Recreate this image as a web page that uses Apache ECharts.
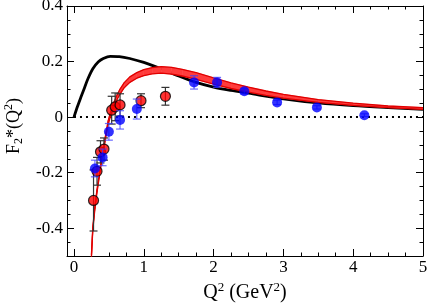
<!DOCTYPE html>
<html>
<head>
<meta charset="utf-8">
<script src="https://cdn.jsdelivr.net/npm/echarts@6/dist/echarts.min.js"></script>
<style>html,body{margin:0;padding:0;background:#fff;}#c{width:429px;height:303px;}</style>
</head>
<body>
<div id="c"></div>
<script>
// ---- data ----
var blackX = [0, 0.05, 0.1, 0.15, 0.2, 0.27, 0.35, 0.42, 0.52, 0.65, 0.8, 1.0, 1.25, 1.5, 1.75, 2.0, 2.25, 2.5, 3.0, 3.5, 4.0, 4.5, 5.0];
var blackY = [0, 0.038, 0.072, 0.105, 0.138, 0.174, 0.199, 0.211, 0.219, 0.218, 0.211, 0.197, 0.174, 0.148, 0.125, 0.108, 0.096, 0.086, 0.066, 0.051, 0.041, 0.034, 0.028];

var bandX  = [0.25, 0.27, 0.30, 0.33, 0.36, 0.39, 0.43, 0.46, 0.49, 0.52, 0.56, 0.61, 0.66, 0.72, 0.80, 0.90, 1.00, 1.12, 1.25, 1.40, 1.55, 1.75, 2.00, 2.25, 2.50, 2.75, 3.00, 3.50, 4.00, 4.50, 5.00];
var bandLo = [-0.504, -0.404, -0.330, -0.270, -0.220, -0.169, -0.111, -0.066, -0.027, 0.001, 0.030, 0.060, 0.083, 0.106, 0.125, 0.140, 0.149, 0.156, 0.158, 0.155, 0.148, 0.136, 0.119, 0.103, 0.090, 0.078, 0.068, 0.053, 0.042, 0.034, 0.028];
var bandHi = [-0.496, -0.396, -0.320, -0.260, -0.210, -0.157, -0.099, -0.054, -0.013, 0.015, 0.046, 0.076, 0.101, 0.124, 0.145, 0.160, 0.171, 0.178, 0.182, 0.179, 0.172, 0.160, 0.141, 0.123, 0.108, 0.094, 0.082, 0.063, 0.050, 0.040, 0.034];

var redX   = [0.28, 0.33, 0.38, 0.43, 0.54, 0.59, 0.66, 0.96, 1.31];
var redY   = [-0.30, -0.195, -0.125, -0.115, 0.025, 0.037, 0.044, 0.059, 0.075];
var redErr = [0.11, 0.05, 0.04, 0.04, 0.05, 0.05, 0.04, 0.025, 0.032];

var blueX   = [0.30, 0.41, 0.50, 0.66, 0.90, 1.72, 2.05, 2.44, 2.91, 3.48, 4.16];
var blueY   = [-0.185, -0.145, -0.053, -0.01, 0.029, 0.125, 0.125, 0.093, 0.053, 0.035, 0.007];
var blueErr = [0.03, 0.03, 0.03, 0.033, 0.036, 0.024, 0.018, 0.01, 0.008, 0.006, 0.005];

var xMajor = [0, 1, 2, 3, 4, 5];
var xMinor = [0, 0.25, 0.5, 0.75, 1, 1.25, 1.5, 1.75, 2, 2.25, 2.5, 2.75, 3, 3.25, 3.5, 3.75, 4, 4.25, 4.5, 4.75, 5];
var yMajor = [-0.4, -0.2, 0, 0.2, 0.4];
var yMinor = [-0.5, -0.45, -0.4, -0.35, -0.3, -0.25, -0.2, -0.15, -0.1, -0.05, 0, 0.05, 0.1, 0.15, 0.2, 0.25, 0.3, 0.35, 0.4];
var yLabels = ['-0.4', '-0.2', '0', '0.2', '0.4'];
var xLabels = ['0', '1', '2', '3', '4', '5'];

// ---- chart ----
var FONT = 'Liberation Serif';
function zip(a, b) { return a.map(function (v, i) { return [v, b[i]]; }); }

function xAx(pos, major, showLine, showLabel) {
  return {
    type: 'value', position: pos, min: -0.1, max: 5,
    axisLine: { show: showLine, onZero: false, lineStyle: { color: '#000', width: 1 } },
    axisTick: { show: true, inside: true, length: major ? 7 : 3.5, customValues: major ? xMajor : xMinor, lineStyle: { color: '#000', width: 1 } },
    axisLabel: showLabel ? {
      show: true, customValues: xMajor, margin: 3, color: '#000', fontFamily: FONT, fontSize: 17,
      formatter: function (v) { var i = xMajor.indexOf(Math.round(v)); return i >= 0 ? xLabels[i] : ''; }
    } : { show: false },
    splitLine: { show: false }
  };
}
function yAx(pos, major, showLine, showLabel) {
  return {
    type: 'value', position: pos, min: -0.5, max: 0.4,
    axisLine: { show: showLine, onZero: false, lineStyle: { color: '#000', width: 1 } },
    axisTick: { show: true, inside: true, length: major ? 7 : 3.5, customValues: major ? yMajor : yMinor, lineStyle: { color: '#000', width: 1 } },
    axisLabel: showLabel ? {
      show: true, customValues: yMajor, margin: 4, color: '#000', fontFamily: FONT, fontSize: 17,
      formatter: function (v) {
        for (var i = 0; i < yMajor.length; i++) if (Math.abs(yMajor[i] - v) < 1e-6) return yLabels[i];
        return '';
      }
    } : { show: false },
    splitLine: { show: false }
  };
}

var xAxes = [xAx('bottom', true, true, true), xAx('bottom', false, false, false), xAx('top', true, true, false), xAx('top', false, false, false)];
xAxes[0].name = '{t|Q}{sup|2}{t| (GeV}{sup|2}{t|)}';
xAxes[0].nameLocation = 'middle';
xAxes[0].nameGap = 22;
xAxes[0].nameTextStyle = {
  rich: {
    t: { fontFamily: FONT, fontSize: 20, color: '#000', lineHeight: 24, verticalAlign: 'middle' },
    sup: { fontFamily: FONT, fontSize: 13, color: '#000', lineHeight: 14, verticalAlign: 'top' }
  }
};
var yAxes = [yAx('left', true, true, true), yAx('left', false, false, false), yAx('right', true, true, false), yAx('right', false, false, false)];
yAxes[0].name = '{t|F}{sub|2}{t|*(Q}{sup|2}{t|)}';
yAxes[0].nameLocation = 'middle';
yAxes[0].nameGap = 34;
yAxes[0].nameTextStyle = {
  padding: [0, 0, 0, 10],
  rich: {
    t: { fontFamily: FONT, fontSize: 18, color: '#000', lineHeight: 22, verticalAlign: 'middle' },
    sup: { fontFamily: FONT, fontSize: 12, color: '#000', lineHeight: 12, verticalAlign: 'top' },
    sub: { fontFamily: FONT, fontSize: 12, color: '#000', lineHeight: 12, verticalAlign: 'bottom' }
  }
};

function errSeries(xs, ys, es, color, z) {
  return {
    type: 'custom', xAxisIndex: 0, yAxisIndex: 0, z: z, clip: true,
    data: xs.map(function (x, i) { return [x, ys[i] - es[i], ys[i] + es[i]]; }),
    encode: { x: 0, y: [1, 2] },
    renderItem: function (params, api) {
      var lo = api.coord([api.value(0), api.value(1)]);
      var hi = api.coord([api.value(0), api.value(2)]);
      var w = 4;
      var st = { stroke: color, lineWidth: 1.2 };
      return {
        type: 'group', children: [
          { type: 'line', shape: { x1: lo[0], y1: lo[1], x2: hi[0], y2: hi[1] }, style: st },
          { type: 'line', shape: { x1: lo[0] - w, y1: lo[1], x2: lo[0] + w, y2: lo[1] }, style: st },
          { type: 'line', shape: { x1: hi[0] - w, y1: hi[1], x2: hi[0] + w, y2: hi[1] }, style: st }
        ]
      };
    }
  };
}

var bandSegs = [];
for (var i = 0; i < bandX.length - 1; i++) {
  bandSegs.push([bandX[i], bandLo[i], bandHi[i], bandX[i + 1], bandLo[i + 1], bandHi[i + 1]]);
}

var chart = echarts.init(document.getElementById('c'), null, { renderer: 'canvas' });
chart.setOption({
  animation: false,
  backgroundColor: '#fff',
  grid: { left: 67, right: 6, top: 6, bottom: 47, containLabel: false, outerBoundsMode: 'none' },
  xAxis: xAxes,
  yAxis: yAxes,
  series: [
    { type: 'line', data: [[0, 0], [5, 0]], symbol: 'none', z: 1,
      lineStyle: { color: '#000', width: 2, type: [2, 4] } },
    { type: 'line', data: zip(blackX, blackY), symbol: 'none', smooth: 0.3, z: 2,
      lineStyle: { color: '#000', width: 2.8 } },
    { type: 'custom', z: 3, clip: true, data: bandSegs,
      encode: { x: [0, 3], y: [1, 2, 4, 5] },
      renderItem: function (params, api) {
        var a = api.coord([api.value(0), api.value(2)]);
        var b = api.coord([api.value(3), api.value(5)]);
        var c = api.coord([api.value(3), api.value(4)]);
        var d = api.coord([api.value(0), api.value(1)]);
        return { type: 'polygon', shape: { points: [a, b, c, d] },
          style: { fill: '#ff3c3c', stroke: '#ff3c3c', lineWidth: 0.6 } };
      } },
    { type: 'line', data: zip(bandX, bandLo), symbol: 'none', z: 3,
      lineStyle: { color: '#e00000', width: 1.3 } },
    { type: 'line', data: zip(bandX, bandHi), symbol: 'none', z: 3,
      lineStyle: { color: '#e00000', width: 1.3 } },
    errSeries(redX, redY, redErr, '#333', 4),
    { type: 'scatter', data: zip(redX, redY), symbol: 'circle', symbolSize: 10, z: 5,
      itemStyle: { color: '#ff0000', borderColor: '#000', borderWidth: 1.2 } },
    errSeries(blueX, blueY, blueErr, 'rgba(60,60,255,0.75)', 6),
    { type: 'scatter', data: zip(blueX, blueY), symbol: 'circle', symbolSize: 10, z: 7,
      itemStyle: { color: '#0000ff' } }
  ]
});
</script>
</body>
</html>
